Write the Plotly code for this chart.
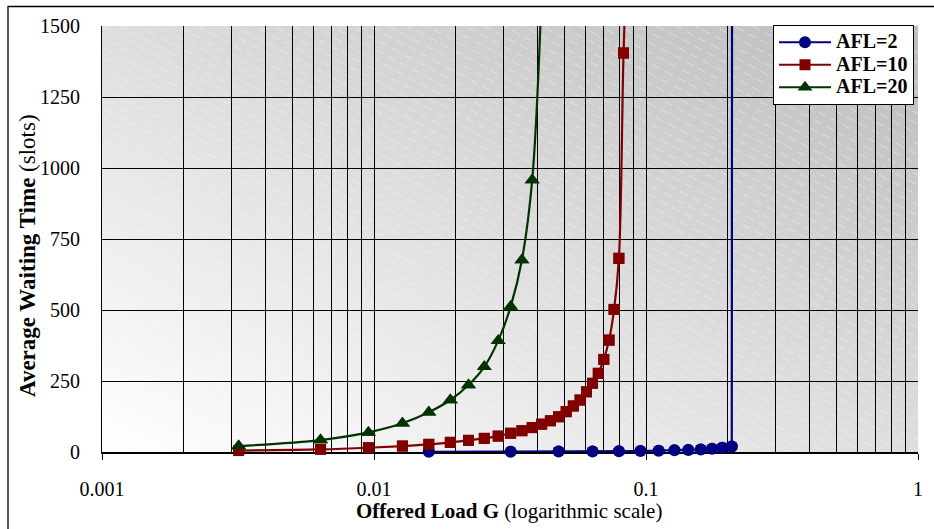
import base64
import plotly.graph_objects as go

# ---------------- data ----------------
G_AFL2 = [0.0159, 0.0318, 0.0477, 0.0636, 0.0795, 0.0954, 0.1113, 0.1272,
          0.1431, 0.159, 0.1749, 0.1908, 0.2067, 0.2226]
W_AFL2 = [0.6, 1.0, 1.5, 2.1, 2.8, 3.6, 4.6, 5.8, 7.3, 9.2, 11.7, 15.0, 19.5, 50000]

G_AFL10 = [0.00318, 0.00636, 0.00954, 0.01272, 0.0159, 0.01908, 0.02226, 0.02544,
           0.02862, 0.0318, 0.03498, 0.03816, 0.04134, 0.04452, 0.0477, 0.05088,
           0.05406, 0.05724, 0.06042, 0.0636, 0.06678, 0.06996, 0.07314, 0.07632,
           0.0795, 0.08268, 0.08586]
W_AFL10 = [5, 9, 15, 21, 27, 34, 41, 48, 56, 66, 75, 86, 98, 110, 124, 142,
           162, 183, 212, 242, 277, 326, 394, 502, 682, 1405, 1900]

G_AFL20 = [0.00318, 0.00636, 0.00954, 0.01272, 0.0159, 0.01908, 0.02226, 0.02544,
           0.02862, 0.0318, 0.03498, 0.03816, 0.04134]
W_AFL20 = [21, 42, 69, 101, 140, 183, 236, 300, 392, 512, 676, 958, 1620]

X_MAJOR = [0.001, 0.01, 0.1, 1]
X_MAJOR_TEXT = ["0.001", "0.01", "0.1", "1"]
Y_TICKS = [0, 250, 500, 750, 1000, 1250, 1500]
Y_MAX = 1500

X_TITLE = "<b>Offered Load G</b> (logarithmic scale)"
Y_TITLE = "<b>Average Waiting Time</b> (slots)"

FONT = "Liberation Serif, Times New Roman, serif"

# plot-area geometry in pixels
L, R, T, B = 102, 16, 26, 77
PW, PH = 934 - L - R, 529 - T - B


def px_x(p):
    return (p - L) / PW


def px_y(p):
    return (529 - B - p) / PH


# background: diagonal grey gradient with faint hatching
svg = (
    f'<svg xmlns="http://www.w3.org/2000/svg" width="{PW}" height="{PH}" '
    f'viewBox="0 0 {PW} {PH}" preserveAspectRatio="none">'
    '<defs><linearGradient id="g" x1="0" y1="1" x2="1" y2="0">'
    '<stop offset="0" stop-color="#ffffff"/><stop offset="1" stop-color="#bcbcbc"/>'
    '</linearGradient>'
    '<pattern id="p" width="14" height="9" patternUnits="userSpaceOnUse" '
    'patternTransform="rotate(28)">'
    '<line x1="0" y1="0.5" x2="9" y2="0.5" stroke="#ffffff" stroke-opacity="0.35" '
    'stroke-width="1"/></pattern></defs>'
    f'<rect width="{PW}" height="{PH}" fill="url(#g)"/>'
    f'<rect width="{PW}" height="{PH}" fill="url(#p)"/></svg>'
)
bg_uri = "data:image/svg+xml;base64," + base64.b64encode(svg.encode()).decode()

series = [
    ("AFL=2", G_AFL2, W_AFL2, "#000080", "circle", 12, "linear"),
    ("AFL=10", G_AFL10, W_AFL10, "#800000", "square", 11, "spline"),
    ("AFL=20", G_AFL20, W_AFL20, "#003300", "triangle-up", 13, "spline"),
]

fig = go.Figure()
for name, gx, wy, col, sym, sz, shape in series:
    fig.add_trace(go.Scatter(
        x=gx, y=wy, name=f"<span style='font-size:20px'>{name}</span>",
        mode="lines+markers",
        line=dict(color=col, width=2.2, shape=shape, smoothing=1),
        marker=dict(color=col, symbol=sym, size=sz),
        cliponaxis=True,
    ))
for name, gx, wy, col, sym, sz, shape in series:
    fig.add_trace(go.Scatter(
        x=gx, y=[v if v <= Y_MAX else None for v in wy], mode="markers",
        marker=dict(color=col, symbol=sym, size=sz),
        showlegend=False, cliponaxis=False, hoverinfo="skip",
    ))

minor_x = [m * 10 ** e for e in (-3, -2, -1) for m in range(2, 10)]

fig.update_layout(
    width=934, height=529,
    margin=dict(l=L, r=R, t=T, b=B),
    paper_bgcolor="white",
    plot_bgcolor="rgba(0,0,0,0)",
    font=dict(family=FONT, size=20, color="black"),
    showlegend=True,
    legend=dict(
        x=px_x(773), y=px_y(25), xanchor="left", yanchor="top",
        bgcolor="white", bordercolor="black", borderwidth=1,
        font=dict(family=FONT, size=15, color="black", weight="bold"),
        tracegroupgap=0, itemwidth=52,
    ),
    images=[dict(source=bg_uri, xref="paper", yref="paper", x=0, y=1,
                 sizex=1, sizey=1, sizing="stretch", layer="below")],
    shapes=[dict(type="rect", xref="paper", yref="paper",
                 x0=px_x(8), x1=px_x(960), y0=px_y(560), y1=px_y(6.5),
                 line=dict(color="black", width=1.3), fillcolor="rgba(0,0,0,0)",
                 layer="below")],
    annotations=[
        dict(text=X_TITLE, xref="paper", yref="paper", x=px_x(508.5), y=px_y(511),
             xanchor="center", yanchor="middle", showarrow=False,
             font=dict(family=FONT, size=21, color="black")),
        dict(text=Y_TITLE, xref="paper", yref="paper", x=px_x(27), y=px_y(256),
             xanchor="center", yanchor="middle", showarrow=False, textangle=-90,
             font=dict(family=FONT, size=23, color="black")),
    ],
)

fig.update_xaxes(
    type="log", range=[-3, 0],
    tickvals=X_MAJOR, ticktext=X_MAJOR_TEXT,
    ticks="outside", ticklen=6, tickcolor="black", tickwidth=1,
    ticklabelstandoff=12,
    showgrid=True, gridcolor="black", gridwidth=1,
    minor=dict(tickvals=minor_x, showgrid=True, gridcolor="black", gridwidth=1, ticks=""),
    showline=True, linecolor="black", linewidth=2,
    zeroline=False, layer="below traces",
    tickfont=dict(family=FONT, size=20),
)
fig.update_yaxes(
    range=[0, Y_MAX],
    tickvals=Y_TICKS, ticks="outside", ticklen=17, tickcolor="rgba(0,0,0,0)",
    showgrid=False,
    minor=dict(tickvals=Y_TICKS[1:-1], showgrid=True, gridcolor="black", gridwidth=1, ticks=""),
    showline=True, linecolor="black", linewidth=1,
    zeroline=False, layer="below traces",
    tickfont=dict(family=FONT, size=20),
)

fig.write_html("out.html")
